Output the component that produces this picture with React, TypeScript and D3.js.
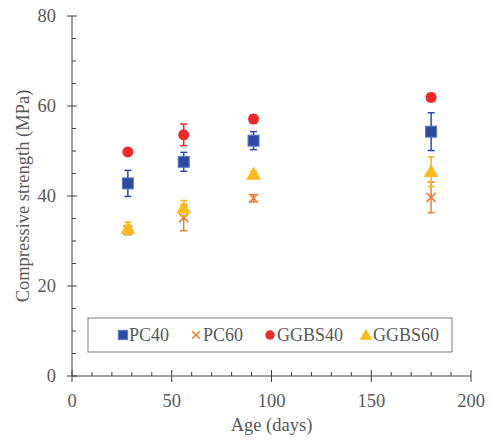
import * as d3 from 'd3'

const ages = [28, 56, 91, 180]
const pc40 = [42.8, 47.6, 52.3, 54.3]
const pc40Err = [2.9, 2.1, 2.0, 4.2]
const pc60 = [32.4, 35.2, 39.5, 39.7]
const pc60Err = [1.0, 2.9, 0.8, 3.4]
const ggbs40 = [49.8, 53.6, 57.1, 61.9]
const ggbs40Err = [0.5, 2.4, 0.9, 0.9]
const ggbs60 = [32.8, 37.3, 44.8, 45.4]
const ggbs60Err = [1.4, 1.7, 0.7, 3.3]
const xTicks = [0, 50, 100, 150, 200]
const yTicks = [0, 20, 40, 60, 80]

const W = 492
const H = 440
const m = { left: 72, right: 21, top: 16, bottom: 64 }
const FONT = '"Liberation Serif", "Times New Roman", serif'
const TXT = '#595959'
const AXIS = '#404040'

type Series = { name: string; values: number[]; err: number[]; color: string; bar: string; shape: string }
const series: Series[] = [
  { name: 'PC40', values: pc40, err: pc40Err, color: '#2E4A9E', bar: '#2E4A9E', shape: 'square' },
  { name: 'PC60', values: pc60, err: pc60Err, color: '#ED7D31', bar: '#ED7D31', shape: 'x' },
  { name: 'GGBS40', values: ggbs40, err: ggbs40Err, color: '#EA2A2A', bar: '#EA2A2A', shape: 'circle' },
  { name: 'GGBS60', values: ggbs60, err: ggbs60Err, color: '#FBBB1E', bar: '#F5B41B', shape: 'triangle' },
]

function Marker({ shape, color, x, y, s = 1 }: { shape: string; color: string; x: number; y: number; s?: number }) {
  if (shape === 'square') {
    const r = 5.5 * s
    return <rect x={x - r} y={y - r} width={2 * r} height={2 * r} fill={color} stroke="#5B7BC8" strokeWidth={1} />
  }
  if (shape === 'circle') return <circle cx={x} cy={y} r={5.5 * s} fill={color} />
  if (shape === 'triangle') {
    const p = d3.symbol(d3.symbolTriangle, 95 * s * s)()
    return <path d={p as string} transform={`translate(${x},${y + 1})`} fill={color} />
  }
  const r = 4.5 * s
  return (
    <g stroke={color} strokeWidth={1.5}>
      <line x1={x - r} y1={y - r} x2={x + r} y2={y + r} />
      <line x1={x - r} y1={y + r} x2={x + r} y2={y - r} />
    </g>
  )
}

export default function App() {
  const x = d3.scaleLinear().domain([0, 200]).range([m.left, W - m.right])
  const y = d3.scaleLinear().domain([0, 80]).range([H - m.bottom, m.top])
  const x0 = x(0)
  const y0 = y(0)
  const xMinor = d3.range(0, 201, 10).filter((v) => v % 50 !== 0)
  const yMinor = d3.range(0, 81, 5).filter((v) => v % 20 !== 0)

  const legendItems = [
    { x: 123, tx: 129 },
    { x: 196, tx: 203 },
    { x: 270, tx: 277 },
    { x: 366, tx: 373 },
  ]

  return (
    <svg width={W} height={H} style={{ position: 'absolute', left: 0, top: 0, background: '#fff' }} fontFamily={FONT}>
      {/* axes */}
      <g stroke={AXIS} strokeWidth={1}>
        <line x1={x0} x2={x(200)} y1={y0} y2={y0} />
        <line x1={x0} x2={x0} y1={y0} y2={y(80)} />
        {xTicks.map((t) => (
          <line key={'xt' + t} x1={x(t)} x2={x(t)} y1={y0 - 6} y2={y0 + 6} />
        ))}
        {xMinor.map((t) => (
          <line key={'xm' + t} x1={x(t)} x2={x(t)} y1={y0 - 4} y2={y0} />
        ))}
        {yTicks.map((t) => (
          <line key={'yt' + t} x1={x0 - 5} x2={x0 + 5} y1={y(t)} y2={y(t)} />
        ))}
        {yMinor.map((t) => (
          <line key={'ym' + t} x1={x0} x2={x0 + 4} y1={y(t)} y2={y(t)} />
        ))}
      </g>
      <g fill={TXT} fontSize={18.5}>
        {xTicks.map((t) => (
          <text key={'xl' + t} x={x(t)} y={y0 + 31} textAnchor="middle">{t}</text>
        ))}
        {yTicks.map((t) => (
          <text key={'yl' + t} x={x0 - 16} y={y(t) + 6} textAnchor="end">{t}</text>
        ))}
        <text x={(x0 + x(200)) / 2} y={H - 9} textAnchor="middle">Age (days)</text>
        <text transform={`translate(29,${(y0 + y(80)) / 2}) rotate(-90)`} textAnchor="middle">Compressive strength (MPa)</text>
      </g>

      {/* data */}
      {series.map((s) => (
        <g key={s.name}>
          {ages.map((a, i) => {
            const cx = x(a)
            const hi = y(s.values[i] + s.err[i])
            const lo = y(s.values[i] - s.err[i])
            return (
              <g key={a}>
                <g stroke={s.bar} strokeWidth={1.5}>
                  <line x1={cx} x2={cx} y1={hi} y2={lo} />
                  <line x1={cx - 3.5} x2={cx + 3.5} y1={hi} y2={hi} />
                  <line x1={cx - 3.5} x2={cx + 3.5} y1={lo} y2={lo} />
                </g>
                <Marker shape={s.shape} color={s.color} x={cx} y={y(s.values[i])} />
              </g>
            )
          })}
        </g>
      ))}

      {/* legend */}
      <rect x={88} y={318} width={364} height={34} fill="#fff" stroke="#7F7F7F" strokeWidth={1} />
      {series.map((s, i) => (
        <g key={'lg' + s.name}>
          <Marker shape={s.shape} color={s.color} x={legendItems[i].x} y={335} s={0.85} />
          <text x={legendItems[i].tx} y={341} fill={TXT} fontSize={18}>{s.name}</text>
        </g>
      ))}
    </svg>
  )
}
